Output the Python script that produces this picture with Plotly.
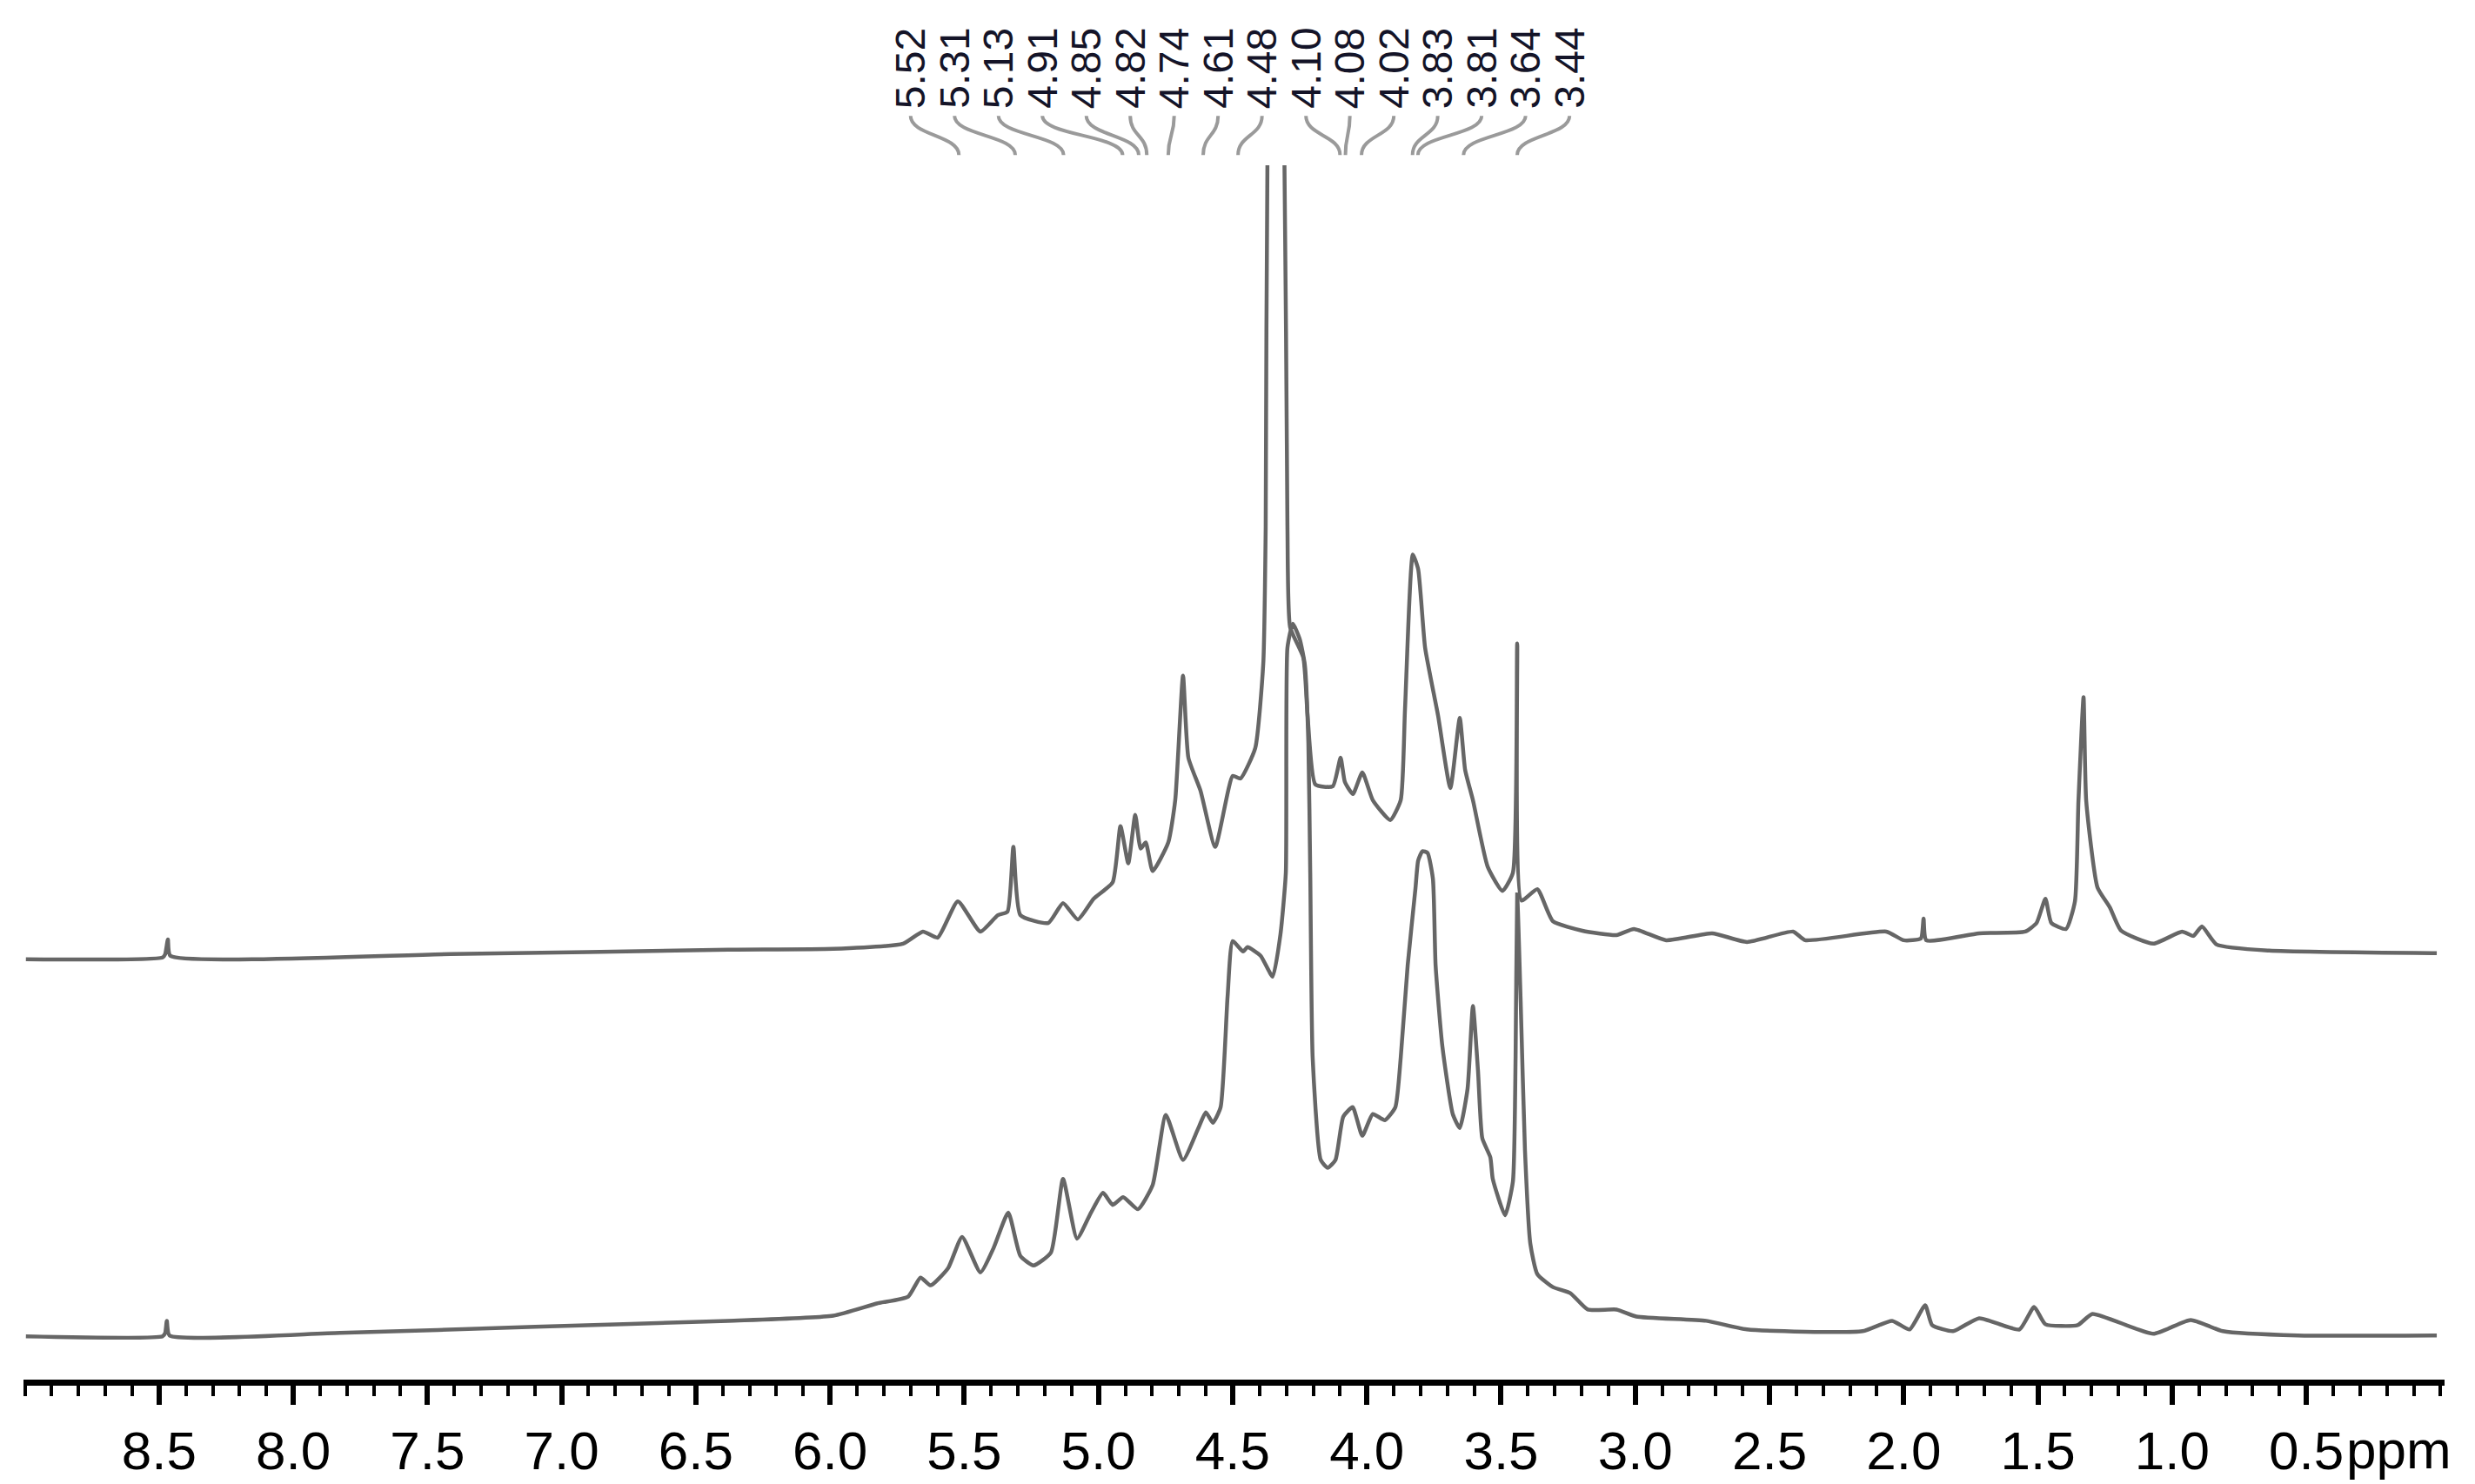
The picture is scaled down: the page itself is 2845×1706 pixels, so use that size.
#%%
import numpy as np
import plotly.graph_objects as go

#%%
# upper spectrum: chemical shift (ppm) and intensity above its own baseline
ppm_top = [
    8.996, 8.487, 8.477, 8.467, 8.458, 7.414, 6.380, 5.988, 5.728, 5.654,
    5.599, 5.524, 5.440, 5.375, 5.339, 5.317, 5.291, 5.187, 5.132, 5.077,
    5.018, 4.947, 4.918, 4.889, 4.863, 4.843, 4.824, 4.798, 4.740, 4.714,
    4.685, 4.665, 4.620, 4.565, 4.500, 4.471, 4.416, 4.386, 4.377, 4.370,
    4.341, 4.308, 4.296, 4.286, 4.237, 4.221, 4.192, 4.127, 4.098, 4.082,
    4.052, 4.017, 3.978, 3.913, 3.874, 3.858, 3.829, 3.809, 3.783, 3.735,
    3.689, 3.654, 3.634, 3.605, 3.550, 3.495, 3.456, 3.440, 3.424, 3.365,
    3.307, 3.197, 3.070, 3.005, 2.885, 2.714, 2.584, 2.412, 2.367, 2.065,
    2.000, 1.936, 1.926, 1.916, 1.719, 1.547, 1.505, 1.472, 1.450, 1.395,
    1.362, 1.349, 1.330, 1.320, 1.278, 1.232, 1.190, 1.070, 0.963, 0.921,
    0.889, 0.834, 0.639, 0.014,
]
int_top = [
    0.0, 0.2, 0.6, 2.3, 0.4, 0.6, 1.1, 1.2, 1.8, 3.2,
    2.5, 6.7, 3.2, 5.1, 5.5, 13.0, 5.1, 4.2, 6.5, 4.6,
    7.0, 8.9, 15.4, 11.1, 16.7, 12.8, 13.5, 10.2, 13.5, 18.4,
    32.8, 23.3, 19.5, 13.0, 21.2, 20.9, 24.4, 34.2, 50.0, 95.0,
    120.0, 95.0, 50.0, 38.4, 34.9, 28.2, 20.2, 20.0, 23.3, 20.5,
    19.1, 21.6, 18.4, 16.1, 18.4, 28.9, 46.8, 45.1, 36.0, 28.2,
    19.8, 27.9, 21.9, 18.4, 10.7, 7.9, 10.0, 36.5, 6.8, 8.1,
    4.4, 3.3, 2.8, 3.5, 2.2, 3.0, 2.0, 3.2, 2.2, 3.2,
    2.2, 2.4, 4.7, 2.2, 3.0, 3.2, 4.2, 7.0, 4.2, 3.5,
    6.7, 18.3, 30.3, 18.3, 8.3, 6.0, 3.3, 1.8, 3.2, 2.7,
    3.8, 1.7, 1.0, 0.7,
]

# lower spectrum
ppm_bottom = [
    8.996, 8.487, 8.477, 8.471, 8.461, 7.826, 7.099, 6.380, 5.988, 5.826,
    5.709, 5.663, 5.625, 5.560, 5.508, 5.440, 5.391, 5.336, 5.291, 5.242,
    5.177, 5.132, 5.080, 5.028, 4.983, 4.947, 4.908, 4.853, 4.798, 4.749,
    4.685, 4.629, 4.600, 4.574, 4.545, 4.519, 4.500, 4.461, 4.445, 4.396,
    4.351, 4.322, 4.302, 4.296, 4.276, 4.250, 4.231, 4.218, 4.211, 4.202,
    4.172, 4.146, 4.117, 4.088, 4.053, 4.017, 3.978, 3.933, 3.894, 3.874,
    3.848, 3.819, 3.809, 3.793, 3.774, 3.754, 3.744, 3.719, 3.680, 3.654,
    3.625, 3.605, 3.586, 3.570, 3.540, 3.531, 3.485, 3.456, 3.446, 3.440,
    3.427, 3.411, 3.391, 3.365, 3.307, 3.242, 3.177, 3.070, 2.996, 2.736,
    2.584, 2.153, 2.043, 1.978, 1.920, 1.894, 1.816, 1.719, 1.569, 1.514,
    1.472, 1.352, 1.297, 1.070, 0.931, 0.811, 0.532, 0.014,
]
int_bottom = [
    0.0, 0.0, 0.4, 1.8, 0.1, 0.4, 1.1, 1.8, 2.4, 3.8,
    4.6, 6.8, 5.9, 7.9, 11.5, 7.4, 10.2, 14.3, 9.3, 8.2,
    9.7, 18.2, 11.3, 14.3, 16.6, 15.2, 16.1, 14.7, 17.5, 25.6,
    20.4, 24.0, 25.9, 24.7, 26.5, 39.3, 45.7, 44.5, 45.0, 44.0,
    41.6, 46.5, 53.6, 79.6, 82.4, 80.6, 77.6, 68.6, 53.6, 32.2,
    20.4, 19.5, 20.4, 25.4, 26.5, 23.2, 25.7, 25.0, 26.5, 32.2,
    42.9, 51.8, 55.0, 56.1, 55.9, 52.9, 42.9, 33.6, 25.7, 24.1,
    28.6, 38.2, 30.7, 22.9, 20.7, 18.2, 14.0, 17.9, 32.2, 51.1,
    38.6, 21.5, 10.7, 7.2, 5.7, 5.0, 3.1, 3.1, 2.3, 1.8,
    0.8, 0.6, 1.8, 0.8, 3.6, 1.3, 0.6, 2.1, 0.8, 3.4,
    1.4, 1.3, 2.6, 0.3, 1.9, 0.6, 0.1, 0.1,
]

peak_labels = [5.52, 5.31, 5.13, 4.91, 4.85, 4.82, 4.74, 4.61,
               4.48, 4.10, 4.08, 4.02, 3.83, 3.81, 3.64, 3.44]
tick_vals = [8.5, 8.0, 7.5, 7.0, 6.5, 6.0, 5.5, 5.0, 4.5,
             4.0, 3.5, 3.0, 2.5, 2.0, 1.5, 1.0, 0.5]

#%%
offset_top = 43.6
line_style = dict(color="#666666", width=4.5, shape="spline", smoothing=0.5)
tick_font = dict(family="Liberation Sans Narrow, Arial Narrow, Liberation Sans",
                 size=62, color="black")

fig = go.Figure()
fig.add_trace(go.Scatter(x=ppm_top, y=np.array(int_top) + offset_top,
                         mode="lines", line=line_style, hoverinfo="skip"))
fig.add_trace(go.Scatter(x=ppm_bottom, y=int_bottom,
                         mode="lines", line=line_style, hoverinfo="skip"))

# peak labels spread evenly above the spectrum, with bent leader lines
label_x = np.linspace(5.70, 3.245, len(peak_labels))
for lx, p in zip(label_x, peak_labels):
    fig.add_annotation(x=lx, y=1.0798, xref="x", yref="paper",
                       text=f"{p:.2f}", textangle=-90, showarrow=False,
                       xanchor="center", yanchor="middle",
                       font=dict(family="Liberation Sans, Arial", size=48, color="#141428"))
    fig.add_shape(type="path", xref="x", yref="paper",
                  path=f"M {lx},1.0406 C {lx},1.0246 {p},1.0246 {p},1.0085",
                  line=dict(color="#9a9a9a", width=4))

fig.add_annotation(x=0.5, y=-0.058, xref="x", yref="paper", text="ppm",
                   showarrow=False, xanchor="left", yanchor="middle", xshift=44,
                   font=tick_font)

fig.update_xaxes(
    range=[9.005, -0.015],
    tickvals=tick_vals,
    ticktext=[f"{t:.1f}" for t in tick_vals],
    ticks="outside", ticklen=22, tickwidth=6, tickcolor="black",
    minor=dict(dtick=0.1, tick0=0, ticks="outside", ticklen=12, tickwidth=4, tickcolor="black"),
    showline=True, linewidth=7, linecolor="black",
    showgrid=False, zeroline=False,
    tickfont=tick_font,
)
fig.update_yaxes(range=[-5.0, 135.4], visible=False, showgrid=False, zeroline=False)

fig.update_layout(
    width=2845, height=1706,
    margin=dict(l=19, r=43, t=182, b=120),
    paper_bgcolor="white", plot_bgcolor="white",
    showlegend=False,
)

fig.write_html("out.html")
